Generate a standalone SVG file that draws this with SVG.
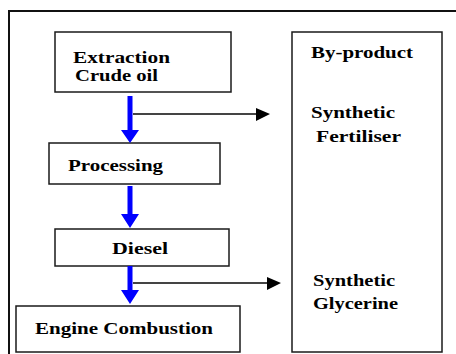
<svg xmlns="http://www.w3.org/2000/svg" width="456" height="354" viewBox="0 0 456 354">
<defs>
<style>
.box{fill:#fff;stroke:#1a1a1a;stroke-width:1.5}
.frame{fill:#fff;stroke:#111;stroke-width:2}
.t{font-family:"Liberation Serif","Times New Roman",serif;font-weight:bold;font-size:16px;fill:#000}
.blue{fill:#0000ff}
.gray{stroke:#444;stroke-width:1.8;fill:none}
.ghead{fill:#000}
</style>
</defs>
<rect class="frame" x="9" y="11" width="460" height="360"/>
<g id="extraction">
<rect class="box" x="55" y="32" width="176" height="60"/>
<text class="t" x="73" y="63" textLength="97" lengthAdjust="spacingAndGlyphs">Extraction</text>
<text class="t" x="75" y="81" textLength="83" lengthAdjust="spacingAndGlyphs">Crude oil</text>
</g>
<g id="processing">
<rect class="box" x="49" y="143" width="171" height="41"/>
<text class="t" x="68" y="171" textLength="95" lengthAdjust="spacingAndGlyphs">Processing</text>
</g>
<g id="diesel">
<rect class="box" x="55" y="229" width="174" height="37"/>
<text class="t" x="112" y="254" textLength="56" lengthAdjust="spacingAndGlyphs">Diesel</text>
</g>
<g id="engine">
<rect class="box" x="16" y="306" width="224" height="46"/>
<text class="t" x="35" y="334" textLength="178" lengthAdjust="spacingAndGlyphs">Engine Combustion</text>
</g>
<g id="byproduct">
<rect class="box" x="292" y="32" width="150" height="320"/>
<text class="t" x="311" y="58" textLength="102" lengthAdjust="spacingAndGlyphs">By-product</text>
<text class="t" x="311" y="118" textLength="84" lengthAdjust="spacingAndGlyphs">Synthetic</text>
<text class="t" x="316" y="142" textLength="85" lengthAdjust="spacingAndGlyphs">Fertiliser</text>
<text class="t" x="313" y="286" textLength="82" lengthAdjust="spacingAndGlyphs">Synthetic</text>
<text class="t" x="313" y="309" textLength="85" lengthAdjust="spacingAndGlyphs">Glycerine</text>
</g>
<g id="connectors">
<path class="blue" d="M127.5,96 H132.5 V130 H139 L130,143 L121,130 H127.5 Z"/>
<path class="blue" d="M127.5,186 H132.5 V214 H139 L130,228 L121,214 H127.5 Z"/>
<path class="blue" d="M127.5,266 H132.5 V290 H139 L130,304 L121,290 H127.5 Z"/>
<line class="gray" x1="133" y1="114" x2="258" y2="114"/>
<path class="ghead" d="M256,108 L270,114 L256,121 Z"/>
<line class="gray" x1="133" y1="283" x2="269" y2="283"/>
<path class="ghead" d="M267,277 L281,283 L267,290 Z"/>
</g>
</svg>
